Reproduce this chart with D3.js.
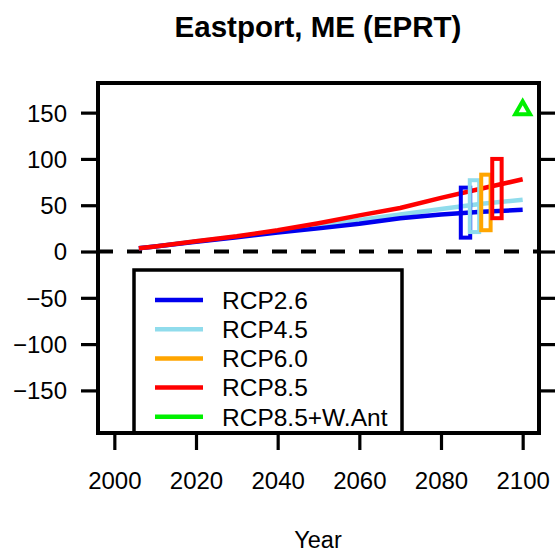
<!DOCTYPE html>
<html>
<head>
<meta charset="utf-8">
<script src="https://cdn.jsdelivr.net/npm/d3@7/dist/d3.min.js"></script>
<style>
  html, body { margin: 0; padding: 0; background: #fff; }
  svg { display: block; }
  text { font-family: "Liberation Sans", Arial, sans-serif; fill: #000; }
</style>
</head>
<body>
<svg id="chart" width="558" height="556"></svg>
<script>
// Projected sea level change at Eastport, ME (cm), by scenario
const years = [2006, 2010, 2020, 2030, 2040, 2050, 2060, 2070, 2080, 2090, 2100];
const rcp26 = [3.5, 5.5, 10.5, 15.5, 20.5, 25, 30, 36, 40, 43, 45];
const rcp45 = [3.5, 5.5, 11, 16, 22, 28, 34, 40, 46, 51.5, 56];
const rcp85 = [3.5, 5.5, 11, 16.5, 23, 30.5, 39, 47, 58, 68, 78];

// Likely ranges at 2100, drawn side by side near the end of the series
const rangeNames = ["RCP2.6", "RCP4.5", "RCP6.0", "RCP8.5"];
const rangeYears = [2086, 2088.2, 2091, 2093.7];
const rangeLow  = [15, 21, 23, 36];
const rangeHigh = [69, 77, 83, 100];

// RCP8.5 with West Antarctic contribution, single value at 2100
const wantYear = 2100;
const wantValue = 153;

const legendLabels = ["RCP2.6", "RCP4.5", "RCP6.0", "RCP8.5", "RCP8.5+W.Ant"];
const colors = ["#0000ee", "#90dcec", "#ffa500", "#ff0000", "#00f000"];

const xTicks = [2000, 2020, 2040, 2060, 2080, 2100];
const yTicks = [-150, -100, -50, 0, 50, 100, 150];

const svg = d3.select("#chart");
const plot = { left: 98, right: 539, top: 83, bottom: 433 };

const x = d3.scaleLinear().domain([1996, 2104]).range([plot.left, plot.right]);
const y = d3.scaleLinear().domain([-196, 182]).range([plot.bottom, plot.top]);

svg.append("defs").append("clipPath").attr("id", "plotclip")
  .append("rect")
  .attr("x", plot.left).attr("y", plot.top)
  .attr("width", plot.right - plot.left).attr("height", plot.bottom - plot.top);

const g = svg.append("g").attr("clip-path", "url(#plotclip)");

// zero reference line
g.append("line")
  .attr("x1", plot.left).attr("x2", plot.right)
  .attr("y1", y(0)).attr("y2", y(0))
  .attr("stroke", "#000").attr("stroke-width", 4)
  .attr("stroke-dasharray", "15,14");

// scenario curves
const line = d3.line().x((d, i) => x(years[i])).y(d => y(d));
[[rcp45, 1], [rcp26, 0], [rcp85, 3]].forEach(([vals, ci]) => {
  g.append("path")
    .attr("d", line(vals))
    .attr("fill", "none")
    .attr("stroke", colors[ci])
    .attr("stroke-width", 4.5)
    .attr("stroke-linejoin", "round");
});

// likely-range boxes
const halfW = 1.15;
rangeYears.forEach((yr, i) => {
  g.append("rect")
    .attr("x", x(yr - halfW))
    .attr("width", x(yr + halfW) - x(yr - halfW))
    .attr("y", y(rangeHigh[i]))
    .attr("height", y(rangeLow[i]) - y(rangeHigh[i]))
    .attr("fill", "none")
    .attr("stroke", colors[i])
    .attr("stroke-width", 4);
});

// W. Antarctic point
g.append("path")
  .attr("d", d3.symbol(d3.symbolTriangle, 95)())
  .attr("transform", `translate(${x(wantYear)},${y(wantValue)})`)
  .attr("fill", "none")
  .attr("stroke", colors[4])
  .attr("stroke-width", 4)
  .attr("stroke-linejoin", "miter");

// legend
const leg = g.append("g");
leg.append("rect")
  .attr("x", 134).attr("y", 270)
  .attr("width", 268).attr("height", 200)
  .attr("fill", "none").attr("stroke", "#000").attr("stroke-width", 3.5);
legendLabels.forEach((lab, i) => {
  const ly = 300 + i * 29.2;
  leg.append("line")
    .attr("x1", 155).attr("x2", 203).attr("y1", ly).attr("y2", ly)
    .attr("stroke", colors[i]).attr("stroke-width", 4.5);
  leg.append("text")
    .attr("x", 222).attr("y", ly).attr("dy", "0.36em")
    .style("font-size", "24.5px")
    .text(lab);
});

// axes
const fontSize = "24px";
const yAxis = d3.axisLeft(y).tickValues(yTicks).tickSize(17).tickPadding(14)
  .tickFormat(d => d < 0 ? "\u2212" + Math.abs(d) : d);
const ya = svg.append("g").attr("transform", `translate(${plot.left},0)`).call(yAxis);
ya.select(".domain").remove();
ya.selectAll("line").attr("stroke-width", 3.2);
ya.selectAll("text").style("font-size", fontSize).attr("dy", "0.35em");

const yAxisR = d3.axisRight(y).tickValues(yTicks).tickSize(16).tickFormat("");
const yr = svg.append("g").attr("transform", `translate(${plot.right},0)`).call(yAxisR);
yr.select(".domain").remove();
yr.selectAll("line").attr("stroke-width", 3.2);

const xAxis = d3.axisBottom(x).tickValues(xTicks).tickSize(17).tickPadding(22)
  .tickFormat(d3.format("d"));
const xa = svg.append("g").attr("transform", `translate(0,${plot.bottom})`).call(xAxis);
xa.select(".domain").remove();
xa.selectAll("line").attr("stroke-width", 3.2);
xa.selectAll("text").style("font-size", fontSize);

// frame
svg.append("rect")
  .attr("x", plot.left).attr("y", plot.top)
  .attr("width", plot.right - plot.left).attr("height", plot.bottom - plot.top)
  .attr("fill", "none").attr("stroke", "#000").attr("stroke-width", 4);

// title and axis label
svg.append("text")
  .attr("x", 318).attr("y", 37)
  .attr("text-anchor", "middle")
  .style("font-size", "29.5px").style("font-weight", "bold")
  .text("Eastport, ME (EPRT)");

svg.append("text")
  .attr("x", 318).attr("y", 548)
  .attr("text-anchor", "middle")
  .style("font-size", "23.5px")
  .text("Year");
</script>
</body>
</html>
